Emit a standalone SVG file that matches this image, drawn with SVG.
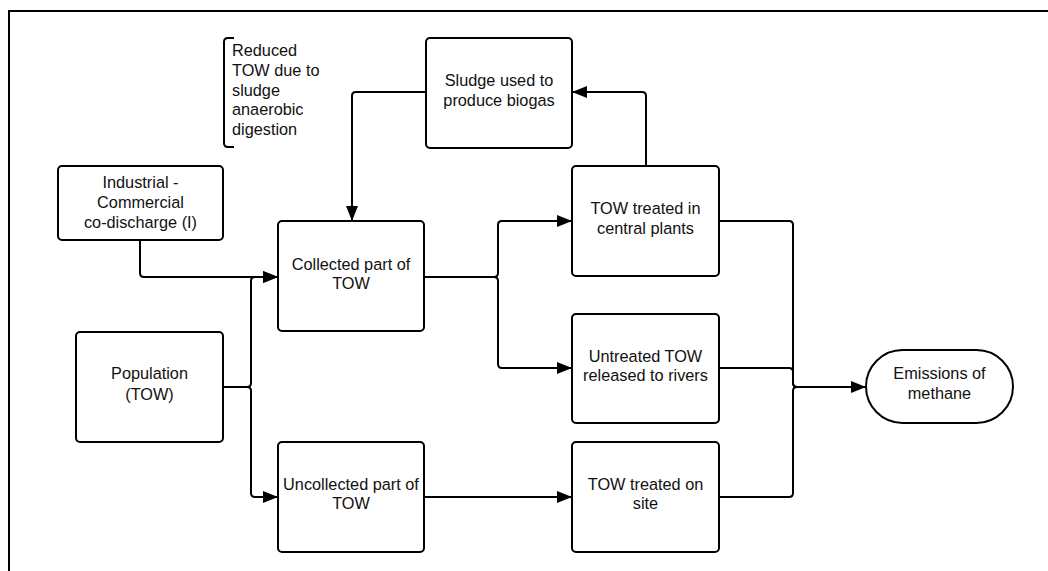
<svg xmlns="http://www.w3.org/2000/svg" width="1048" height="571" viewBox="0 0 1048 571">
<defs>
<style>
.box{fill:#fff;stroke:#000;stroke-width:2}
.ln{fill:none;stroke:#000;stroke-width:2}
.t{font-family:"Liberation Sans",Arial,sans-serif;font-size:16.3px;fill:#111;text-anchor:middle}
.tl{font-family:"Liberation Sans",Arial,sans-serif;font-size:16.3px;fill:#111;text-anchor:start}
</style>
<marker id="arr" markerUnits="userSpaceOnUse" markerWidth="16" markerHeight="14" refX="15" refY="6" orient="auto">
<path d="M0,0 L15,6 L0,12 z" fill="#000"/>
</marker>
</defs>
<rect width="1048" height="571" fill="#fff"/>
<path class="ln" d="M9,580 V11 H1060"/>

<g id="connectors">
<path class="ln" marker-end="url(#arr)" d="M140,240 V273 Q140,277 144,277 H278"/>
<path class="ln" marker-end="url(#arr)" d="M223,387 H247 Q251,387 251,383 V281 Q251,277 255,277 H278"/>
<path class="ln" marker-end="url(#arr)" d="M223,387 H247 Q251,387 251,391 V493 Q251,497 255,497 H278"/>
<path class="ln" marker-end="url(#arr)" d="M424,277 H494 Q498,277 498,273 V225 Q498,221 502,221 H572"/>
<path class="ln" marker-end="url(#arr)" d="M424,277 H494 Q498,277 498,281 V364 Q498,368 502,368 H572"/>
<path class="ln" marker-end="url(#arr)" d="M424,497 H572"/>
<path class="ln" marker-end="url(#arr)" d="M646,166 V96 Q646,92 642,92 H572"/>
<path class="ln" marker-end="url(#arr)" d="M426,92 H356 Q352,92 352,96 V221"/>
<path class="ln" marker-end="url(#arr)" d="M719,221 H789 Q793,221 793,225 V383 Q793,387 797,387 H866"/>
<path class="ln" d="M719,368 H789 Q793,368 793,372 V383 Q793,387 797,387"/>
<path class="ln" d="M719,497 H789 Q793,497 793,493 V391 Q793,387 797,387"/>
</g>

<g id="note-reduced">
<path class="ln" d="M234,38 H228 Q224,38 224,42 V143 Q224,147 228,147 H234"/>
<text class="tl" x="232" y="56">Reduced</text>
<text class="tl" x="232" y="76">TOW due to</text>
<text class="tl" x="232" y="96">sludge</text>
<text class="tl" x="232" y="115">anaerobic</text>
<text class="tl" x="232" y="135">digestion</text>
</g>

<g id="node-industrial">
<rect class="box" x="58" y="166" width="165" height="74" rx="4"/>
<text class="t" x="140.5" y="188">Industrial -</text>
<text class="t" x="140.5" y="208">Commercial</text>
<text class="t" x="140.5" y="228">co-discharge (I)</text>
</g>

<g id="node-population">
<rect class="box" x="76" y="332" width="147" height="110" rx="4"/>
<text class="t" x="149.5" y="379">Population</text>
<text class="t" x="149.5" y="400">(TOW)</text>
</g>

<g id="node-collected">
<rect class="box" x="278" y="221" width="146" height="110" rx="4"/>
<text class="t" x="351" y="270">Collected part of</text>
<text class="t" x="351" y="289">TOW</text>
</g>

<g id="node-uncollected">
<rect class="box" x="278" y="442" width="146" height="110" rx="4"/>
<text class="t" x="351" y="490">Uncollected part of</text>
<text class="t" x="351" y="509">TOW</text>
</g>

<g id="node-sludge">
<rect class="box" x="426" y="38" width="146" height="110" rx="4"/>
<text class="t" x="499" y="86">Sludge used to</text>
<text class="t" x="499" y="106">produce biogas</text>
</g>

<g id="node-central">
<rect class="box" x="572" y="166" width="147" height="110" rx="4"/>
<text class="t" x="645.5" y="214">TOW treated in</text>
<text class="t" x="645.5" y="234">central plants</text>
</g>

<g id="node-untreated">
<rect class="box" x="572" y="314" width="147" height="109" rx="4"/>
<text class="t" x="645.5" y="362">Untreated TOW</text>
<text class="t" x="645.5" y="381">released to rivers</text>
</g>

<g id="node-onsite">
<rect class="box" x="572" y="442" width="147" height="110" rx="4"/>
<text class="t" x="645.5" y="490">TOW treated on</text>
<text class="t" x="645.5" y="509">site</text>
</g>

<g id="node-emissions">
<rect class="box" x="866" y="350" width="147" height="73" rx="36.5"/>
<text class="t" x="939.5" y="379">Emissions of</text>
<text class="t" x="939.5" y="399">methane</text>
</g>
</svg>
